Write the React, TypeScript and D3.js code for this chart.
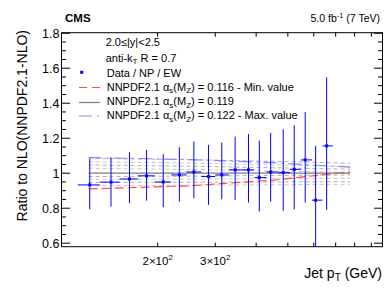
import React from "react";
import * as d3 from "d3";

// data points (ratio data / NP / EW to NLO NNPDF2.1)
const binLo = [114, 133, 153, 174, 196, 220, 245, 272, 300, 330, 362, 395, 430, 468, 507, 548, 592, 638];
const binHi = [133, 153, 174, 196, 220, 245, 272, 300, 330, 362, 395, 430, 468, 507, 548, 592, 638, 686];
const ptMid = [124, 144, 164, 185, 208, 233, 258, 286, 314, 345, 379, 409, 443, 484, 523, 565, 608, 657];
const ratio = [0.933, 0.949, 0.967, 0.985, 0.95, 0.99, 1.007, 0.981, 0.99, 1.019, 1.019, 0.975, 1.007, 1.003, 1.022, 1.076, 0.846, 1.156];
const errHi = [1.082, 1.091, 1.12, 1.133, 1.109, 1.149, 1.181, 1.162, 1.175, 1.209, 1.224, 1.186, 1.23, 1.251, 1.274, 1.349, 1.156, 1.549];
const errLo = [0.794, 0.809, 0.829, 0.843, 0.806, 0.838, 0.857, 0.819, 0.851, 0.847, 0.832, 0.781, 0.838, 0.785, 0.794, 0.832, 0.45, 0.79];

// theory curves
const thPt = [123, 250, 450, 775];
const minCurve = [0.91, 0.928, 0.96, 1.008];
const nomCurve = [1, 1, 1, 1];
const maxCurve = [1.09, 1.078, 1.06, 1.035];
const scan1 = [1.085, 1.077, 1.068, 1.057];
const scan2 = [1.066, 1.058, 1.048, 1.038];
const scan3 = [1.047, 1.04, 1.031, 1.023];
const scan4 = [1.028, 1.021, 1.013, 1.006];
const scan5 = [0.981, 0.983, 0.987, 0.99];
const scan6 = [0.966, 0.967, 0.969, 0.971];
const scan7 = [0.947, 0.948, 0.95, 0.952];
const scan8 = [0.929, 0.931, 0.934, 0.937];
const scans = [scan1, scan2, scan3, scan4, scan5, scan6, scan7, scan8];

const xTicks = [200, 300, 400, 500, 600, 700, 800, 900];
const xLabels = [
  { v: 200, m: "2" },
  { v: 300, m: "3" },
];
const yMajor = [0.6, 0.8, 1.0, 1.2, 1.4, 1.6, 1.8];
const yLabels = ["0.6", "0.8", "1", "1.2", "1.4", "1.6", "1.8"];

const font = "Liberation Sans, Arial, Helvetica, sans-serif";
const RED = "#ff4a4a";
const BLUE = "#8585ff";
const GREY = "#7d7d7d";

export default function App() {
  const left = 62, right = 382, top = 32.7, bottom = 246.7;
  const x = d3.scaleLog().domain([102, 970]).range([left, right]);
  const y = d3.scaleLinear().domain([0.58, 1.803]).range([bottom, top]);

  const yMinor = d3.range(0.6, 1.801, 0.05);

  const line = d3
    .line<number>()
    .x((d, i) => x(thPt[i]))
    .y((d) => y(d));

  return (
    <svg width={390} height={302} style={{ position: "absolute", left: 0, top: 0 }} fontFamily={font}>
      <rect width={390} height={302} fill="white" />
      <defs>
        <clipPath id="frame">
          <rect x={left} y={top} width={right - left} height={bottom - top} />
        </clipPath>
      </defs>

      <g clipPath="url(#frame)" fill="none">
        {scans.map((s, i) => (
          <path key={i} d={line(s) || ""} stroke={i % 2 ? "#c8c8c8" : "#b0b0b0"} strokeWidth={1} strokeDasharray="4,3" />
        ))}
        <path d={line(minCurve) || ""} stroke={RED} strokeWidth={1.2} strokeDasharray="9,4" />
        <path d={line(maxCurve) || ""} stroke={BLUE} strokeWidth={1.2} strokeDasharray="13,5,2,5" />
        <path d={line(nomCurve) || ""} stroke={GREY} strokeWidth={1.2} />

        {ratio.map((r, i) => (
          <g key={i} stroke="#0000ff" strokeWidth={1}>
            <line x1={x(ptMid[i])} x2={x(ptMid[i])} y1={y(errHi[i])} y2={y(errLo[i])} />
            <line x1={x(binLo[i])} x2={x(binHi[i])} y1={y(r)} y2={y(r)} />
            <rect x={x(ptMid[i]) - 1.5} y={y(r) - 1.5} width={3} height={3} fill="#0000ff" stroke="none" />
          </g>
        ))}
      </g>

      {/* frame and ticks */}
      <rect x={left - 0.5} y={top} width={right - left + 1} height={bottom - top} fill="none" stroke="black" strokeWidth={1} />
      <g stroke="black" strokeWidth={1}>
        {yMinor.map((v, i) => {
          const major = Math.abs(v * 5 - Math.round(v * 5)) < 1e-6;
          const len = major ? 8 : 4;
          return (
            <g key={i}>
              <line x1={left} x2={left + len} y1={y(v)} y2={y(v)} />
              <line x1={right} x2={right - len} y1={y(v)} y2={y(v)} />
            </g>
          );
        })}
        {xTicks.map((v) => (
          <g key={v}>
            <line x1={x(v)} x2={x(v)} y1={bottom} y2={bottom - 4} />
            <line x1={x(v)} x2={x(v)} y1={top} y2={top + 4} />
          </g>
        ))}
      </g>

      {yMajor.map((v, i) => (
        <text key={v} x={59.5} y={y(v) + 4.5} fontSize={12.5} textAnchor="end">
          {yLabels[i]}
        </text>
      ))}
      {xLabels.map((t) => (
        <text key={t.v} x={x(t.v)} y={265} fontSize={11.5} textAnchor="middle">
          {t.m}×10
          <tspan fontSize={8} dy={-5}>2</tspan>
        </text>
      ))}

      {/* titles */}
      <text transform="translate(27,30) rotate(-90)" fontSize={14} textAnchor="end">
        Ratio to NLO(NNPDF2.1-NLO)
      </text>
      <text x={382} y={277.5} fontSize={14} textAnchor="end">
        Jet p<tspan fontSize={10} dy={3}>T</tspan>
        <tspan dy={-3}> (GeV)</tspan>
      </text>
      <text x={65} y={22.3} fontSize={11.5} fontWeight="bold">CMS</text>
      <text x={380} y={22.3} fontSize={10.5} textAnchor="end">
        5.0 fb<tspan fontSize={7.5} dy={-4}>-1</tspan>
        <tspan dy={4}> (7 TeV)</tspan>
      </text>

      {/* legend */}
      <g fontSize={11}>
        <text x={105.7} y={46.3}>2.0≤|y|&lt;2.5</text>
        <text x={105.7} y={61.8}>
          anti-k<tspan fontSize={8} dy={2.5}>T</tspan>
          <tspan dy={-2.5}> R = 0.7</tspan>
        </text>
        <rect x={80.2} y={70.8} width={3} height={3} fill="#0000ff" />
        <text x={106.7} y={77}>Data / NP / EW</text>

        <line x1={79} x2={100} y1={87.5} y2={87.5} stroke={RED} strokeWidth={1.2} strokeDasharray="8,5" />
        <line x1={79} x2={100} y1={102.5} y2={102.5} stroke={GREY} strokeWidth={1.2} />
        <line x1={79} x2={100} y1={116} y2={116} stroke={BLUE} strokeWidth={1.2} strokeDasharray="13,5,2,5" />
        {["0.116 - Min. value", "0.119", "0.122 - Max. value"].map((s, i) => (
          <text key={s} x={106.7} y={90.7 + i * 14.3}>
            NNPDF2.1 α<tspan fontSize={8} dy={2.5}>s</tspan>
            <tspan dy={-2.5}>(M</tspan>
            <tspan fontSize={8} dy={2.5}>Z</tspan>
            <tspan dy={-2.5}>) = {s}</tspan>
          </text>
        ))}
      </g>
    </svg>
  );
}
